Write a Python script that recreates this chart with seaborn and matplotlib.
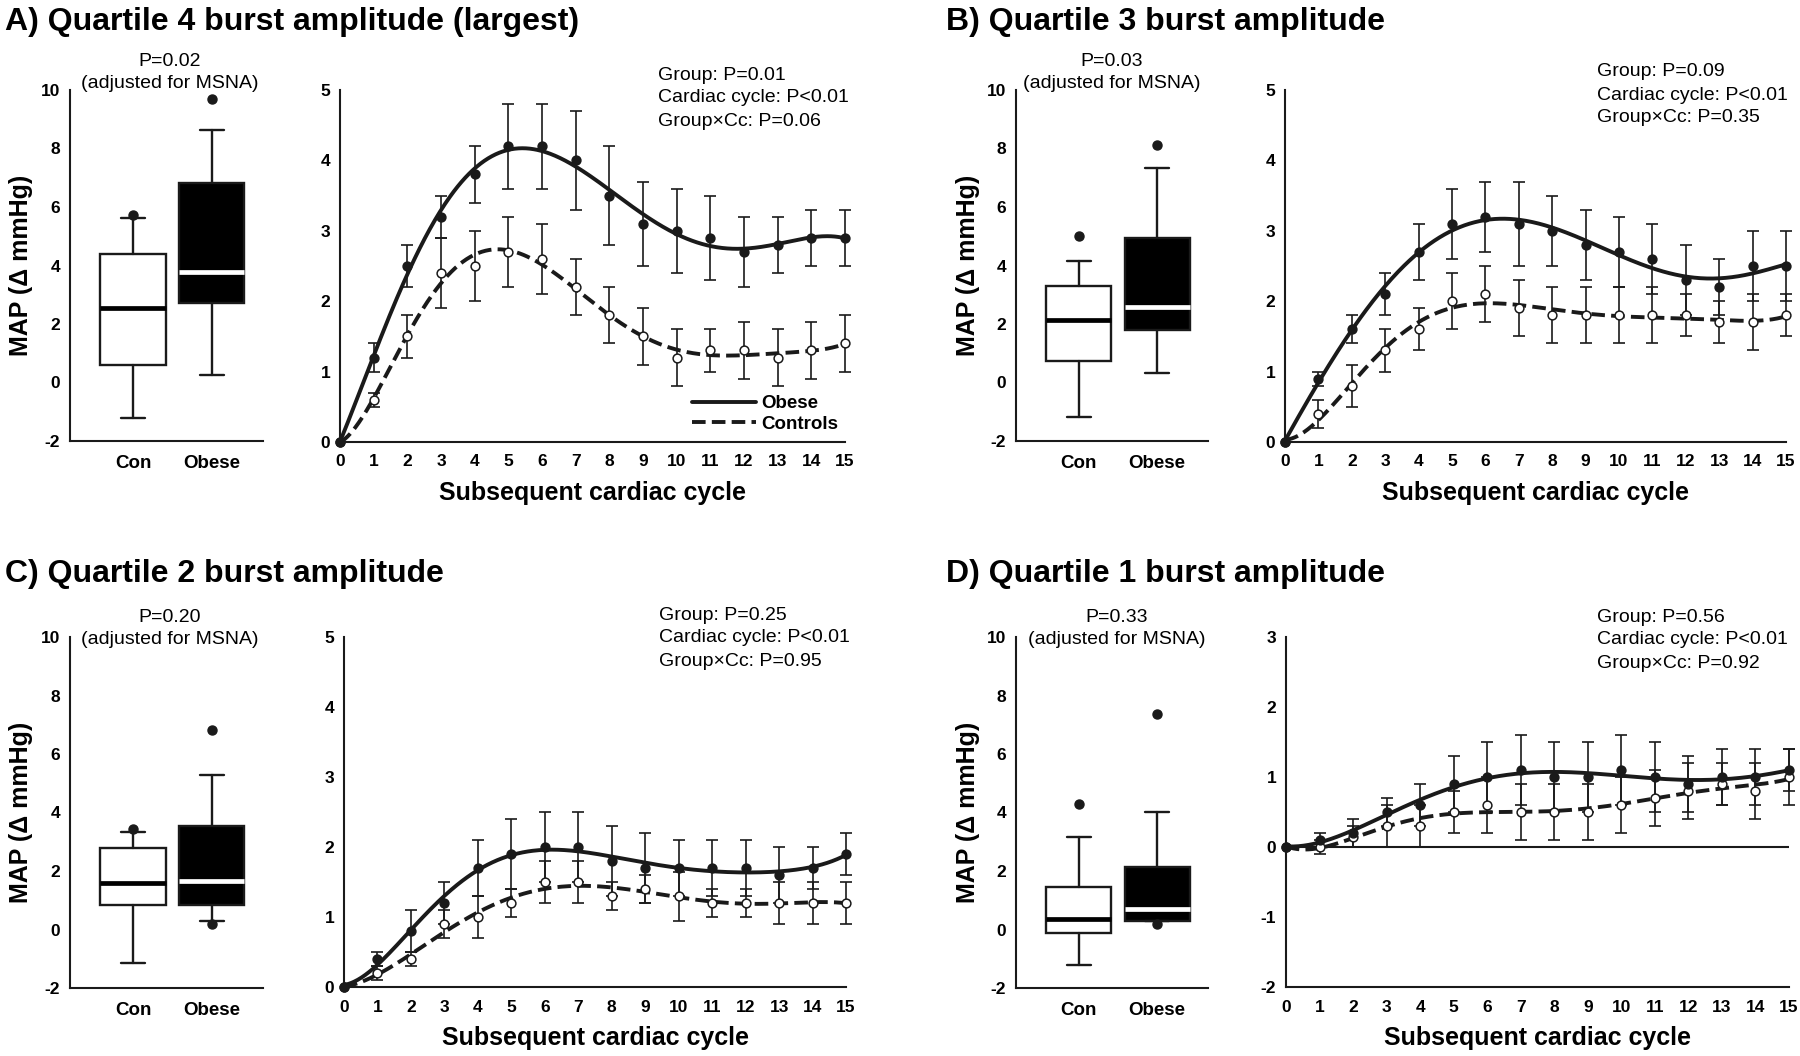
import numpy as np
import matplotlib
matplotlib.use("Agg")
import matplotlib.pyplot as plt
import seaborn as sns
from matplotlib.lines import Line2D

sns.set_theme(style="white")
plt.rcParams['font.family'] = ['Liberation Sans', 'DejaVu Sans']
plt.rcParams['text.color'] = 'black'
plt.rcParams['axes.labelcolor'] = 'black'
plt.rcParams['xtick.color'] = 'black'
plt.rcParams['ytick.color'] = 'black'

# ---------------- data ----------------
cycles = list(range(16))
groups = ["Con", "Obese"]

titles = ["A) Quartile 4 burst amplitude (largest)", "B) Quartile 3 burst amplitude",
          "C) Quartile 2 burst amplitude", "D) Quartile 1 burst amplitude"]
box_p = ["P=0.02", "P=0.03", "P=0.20", "P=0.33"]
stat_group = ["Group: P=0.01", "Group: P=0.09", "Group: P=0.25", "Group: P=0.56"]
stat_cycle = ["Cardiac cycle: P<0.01"] * 4
stat_inter = ["Group×Cc: P=0.06", "Group×Cc: P=0.35", "Group×Cc: P=0.95", "Group×Cc: P=0.92"]

# box stats: whisker low, Q1, median, Q3, whisker high, outliers
A_con_box = [-1.22, 0.61, 2.55, 4.40, 5.62, [5.74]]
A_ob_box = [0.26, 2.71, 3.77, 6.83, 8.64, [9.69]]
B_con_box = [-1.18, 0.73, 2.13, 3.31, 4.17, [5.02]]
B_ob_box = [0.31, 1.80, 2.57, 4.94, 7.33, [8.11]]
C_con_box = [-1.15, 0.84, 1.58, 2.78, 3.35, [3.45]]
C_ob_box = [0.29, 0.84, 1.67, 3.55, 5.28, [6.82, 0.19]]
D_con_box = [-1.21, -0.13, 0.35, 1.46, 3.15, [4.29]]
D_ob_box = [0.30, 0.30, 0.69, 2.15, 4.03, [7.37, 0.19]]

# time courses (mean, error) for cycles 0..15
A_obese = [0, 1.2, 2.5, 3.2, 3.8, 4.2, 4.2, 4.0, 3.5, 3.1, 3.0, 2.9, 2.7, 2.8, 2.9, 2.9]
A_obese_err = [0, 0.2, 0.3, 0.3, 0.4, 0.6, 0.6, 0.7, 0.7, 0.6, 0.6, 0.6, 0.5, 0.4, 0.4, 0.4]
A_ctrl = [0, 0.6, 1.5, 2.4, 2.5, 2.7, 2.6, 2.2, 1.8, 1.5, 1.2, 1.3, 1.3, 1.2, 1.3, 1.4]
A_ctrl_err = [0, 0.1, 0.3, 0.5, 0.5, 0.5, 0.5, 0.4, 0.4, 0.4, 0.4, 0.3, 0.4, 0.4, 0.4, 0.4]

B_obese = [0, 0.9, 1.6, 2.1, 2.7, 3.1, 3.2, 3.1, 3.0, 2.8, 2.7, 2.6, 2.3, 2.2, 2.5, 2.5]
B_obese_err = [0, 0.1, 0.2, 0.3, 0.4, 0.5, 0.5, 0.6, 0.5, 0.5, 0.5, 0.5, 0.5, 0.4, 0.5, 0.5]
B_ctrl = [0, 0.4, 0.8, 1.3, 1.6, 2.0, 2.1, 1.9, 1.8, 1.8, 1.8, 1.8, 1.8, 1.7, 1.7, 1.8]
B_ctrl_err = [0, 0.2, 0.3, 0.3, 0.3, 0.4, 0.4, 0.4, 0.4, 0.4, 0.4, 0.4, 0.3, 0.3, 0.4, 0.3]

C_obese = [0, 0.4, 0.8, 1.2, 1.7, 1.9, 2.0, 2.0, 1.8, 1.7, 1.7, 1.7, 1.7, 1.6, 1.7, 1.9]
C_obese_err = [0, 0.1, 0.3, 0.3, 0.4, 0.5, 0.5, 0.5, 0.5, 0.5, 0.4, 0.4, 0.4, 0.4, 0.3, 0.3]
C_ctrl = [0, 0.2, 0.4, 0.9, 1.0, 1.2, 1.5, 1.5, 1.3, 1.4, 1.3, 1.2, 1.2, 1.2, 1.2, 1.2]
C_ctrl_err = [0, 0.1, 0.1, 0.2, 0.3, 0.2, 0.3, 0.3, 0.2, 0.2, 0.35, 0.2, 0.2, 0.3, 0.3, 0.3]

D_obese = [0, 0.1, 0.2, 0.5, 0.6, 0.9, 1.0, 1.1, 1.0, 1.0, 1.1, 1.0, 0.9, 1.0, 1.0, 1.1]
D_obese_err = [0, 0.1, 0.2, 0.2, 0.3, 0.4, 0.5, 0.5, 0.5, 0.5, 0.5, 0.5, 0.4, 0.4, 0.4, 0.3]
D_ctrl = [0, 0.0, 0.15, 0.3, 0.3, 0.5, 0.6, 0.5, 0.5, 0.5, 0.6, 0.7, 0.8, 0.9, 0.8, 1.0]
D_ctrl_err = [0, 0.1, 0.15, 0.3, 0.3, 0.3, 0.4, 0.4, 0.4, 0.4, 0.4, 0.4, 0.4, 0.3, 0.4, 0.4]

# ---------------- figure ----------------
W, H = 1800, 1056
fig = plt.figure(figsize=(18, 10.56), dpi=100)


def rect(l, t, r, b):
    return [l / W, 1 - b / H, (r - l) / W, (b - t) / H]


def ftext(x, y, s, **kw):
    fig.text(x / W, 1 - y / H, s, color='black', **kw)


DASH = (0, (3.5, 1.6))
LW = 2.8


def style(ax):
    for s in ['top', 'right']:
        ax.spines[s].set_visible(False)
    for s in ['left', 'bottom']:
        ax.spines[s].set_color('k')
        ax.spines[s].set_linewidth(1.5)
    ax.tick_params(length=0, pad=7, colors='black')
    ax.grid(False)


def draw_box(ax, con, ob):
    stats = []
    for label, s in zip(groups, [con, ob]):
        lo, q1, med, q3, hi, fl = s
        stats.append(dict(label=label, whislo=lo, q1=q1, med=med, q3=q3,
                          whishi=hi, fliers=fl))
    bp = ax.bxp(stats, positions=[1, 2], widths=0.83, capwidths=0.31,
                patch_artist=True, showfliers=True, manage_ticks=False,
                boxprops=dict(linewidth=1.7, edgecolor='k'),
                whiskerprops=dict(linewidth=1.7, color='k'),
                capprops=dict(linewidth=1.7, color='k'),
                medianprops=dict(linewidth=3.4),
                flierprops=dict(marker='o', markerfacecolor='k',
                                markeredgecolor='k', markersize=6.5))
    bp['boxes'][0].set_facecolor('white')
    bp['boxes'][1].set_facecolor('black')
    bp['medians'][0].set_color('black')
    bp['medians'][1].set_color('white')
    style(ax)
    ax.set_xlim(0.2, 2.65)
    ax.set_ylim(-2, 10)
    ax.set_yticks(range(-2, 11, 2))
    ax.set_yticklabels([str(v) for v in range(-2, 11, 2)], fontsize=12.5, fontweight='bold')
    ax.set_xticks([1, 2])
    ax.set_xticklabels(groups, fontsize=13.5, fontweight='bold')
    ax.tick_params(axis='x', pad=10)
    ax.set_ylabel("MAP (Δ mmHg)", fontsize=18, fontweight='bold', color='black')
    ax.yaxis.set_label_coords(-0.19, 0.5)
    ax.set_xlabel("")


def draw_line(ax, ob, ob_err, ct, ct_err, ylo, yhi, zero_line=False):
    x = np.array(cycles, dtype=float)
    ob = np.array(ob, dtype=float)
    ct = np.array(ct, dtype=float)
    for y, e in [(ct, ct_err), (ob, ob_err)]:
        ax.errorbar(x[1:], y[1:], yerr=np.array(e, dtype=float)[1:], fmt='none',
                    ecolor='k', elinewidth=1.2, capsize=4.3, capthick=1.2,
                    zorder=2, clip_on=False)
    xs = np.linspace(0, 15, 400)
    fit_ob = np.polyval(np.polyfit(x, ob, 6), xs)
    fit_ct = np.polyval(np.polyfit(x, ct, 6), xs)
    sns.lineplot(x=xs, y=fit_ob, ax=ax, color='k', linewidth=LW, zorder=3)
    sns.lineplot(x=xs, y=fit_ct, ax=ax, color='k', linewidth=LW,
                 linestyle=DASH, zorder=3)
    sns.scatterplot(x=x, y=ct, ax=ax, color='white', edgecolor='k', s=40,
                    linewidth=1.1, zorder=4, clip_on=False)
    sns.scatterplot(x=x, y=ob, ax=ax, color='k', edgecolor='k', s=40,
                    linewidth=1.1, zorder=5, clip_on=False)
    style(ax)
    if zero_line:
        ax.axhline(0, color='k', linewidth=1.5, zorder=1)
    ax.set_xlim(0, 15)
    ax.set_ylim(ylo, yhi)
    ax.set_xticks(cycles)
    ax.set_xticklabels([str(c) for c in cycles], fontsize=12.5, fontweight='bold')
    ax.set_yticks(range(ylo, yhi + 1))
    ax.set_yticklabels([str(v) for v in range(ylo, yhi + 1)], fontsize=12.5, fontweight='bold')
    ax.tick_params(axis='x', pad=9)
    ax.set_xlabel("Subsequent cardiac cycle", fontsize=18, fontweight='bold',
                  labelpad=8, color='black')
    ax.set_ylabel("")


# panel layout (pixel boxes)
panels = [
    dict(box=(70, 90, 263, 441), line=(340, 90, 845, 442), title=(5, 22),
         pann=(170, 62, 84), stats=(658, 75), box_data=(A_con_box, A_ob_box),
         line_data=(A_obese, A_obese_err, A_ctrl, A_ctrl_err), yl=(0, 5), zero=False),
    dict(box=(1016, 90, 1208, 441), line=(1285, 90, 1786, 442), title=(946, 22),
         pann=(1112, 62, 84), stats=(1597, 72), box_data=(B_con_box, B_ob_box),
         line_data=(B_obese, B_obese_err, B_ctrl, B_ctrl_err), yl=(0, 5), zero=False),
    dict(box=(70, 637, 263, 988), line=(344, 637, 846, 987), title=(5, 574),
         pann=(170, 617, 639), stats=(659, 615), box_data=(C_con_box, C_ob_box),
         line_data=(C_obese, C_obese_err, C_ctrl, C_ctrl_err), yl=(0, 5), zero=False),
    dict(box=(1016, 637, 1208, 988), line=(1286, 637, 1789, 987), title=(946, 574),
         pann=(1117, 617, 639), stats=(1597, 617), box_data=(D_con_box, D_ob_box),
         line_data=(D_obese, D_obese_err, D_ctrl, D_ctrl_err), yl=(-2, 3), zero=True),
]

for i, p in enumerate(panels):
    axb = fig.add_axes(rect(*p['box']))
    draw_box(axb, *p['box_data'])
    axl = fig.add_axes(rect(*p['line']))
    draw_line(axl, *p['line_data'], p['yl'][0], p['yl'][1], zero_line=p['zero'])

    ftext(p['title'][0], p['title'][1], titles[i], fontsize=23, fontweight='bold',
          ha='left', va='center')
    ftext(p['pann'][0], p['pann'][1], box_p[i], fontsize=14, ha='center', va='center')
    ftext(p['pann'][0], p['pann'][2], "(adjusted for MSNA)", fontsize=14,
          ha='center', va='center')
    sx, sy = p['stats']
    for k, s in enumerate([stat_group[i], stat_cycle[i], stat_inter[i]]):
        ftext(sx, sy + 23 * k, s, fontsize=14, ha='left', va='center')

    if i == 0:
        handles = [Line2D([0], [0], color='k', linewidth=LW),
                   Line2D([0], [0], color='k', linewidth=LW, linestyle=DASH)]
        leg = axl.legend(handles, ["Obese", "Controls"], loc='center left',
                         bbox_to_anchor=(692 / W, 1 - 414 / H), bbox_transform=fig.transFigure,
                         frameon=False, handlelength=3.4, handletextpad=0.3,
                         labelspacing=0.2, borderpad=0, borderaxespad=0,
                         prop={'weight': 'bold', 'size': 13.5})
        for t in leg.get_texts():
            t.set_color('black')

fig.savefig("out.png", dpi=100, facecolor='white')
